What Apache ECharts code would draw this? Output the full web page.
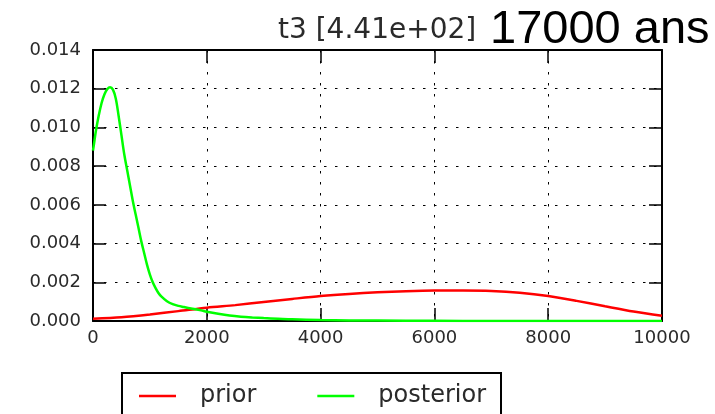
<!DOCTYPE html>
<html>
<head>
<meta charset="utf-8">
<script src="https://cdn.jsdelivr.net/npm/echarts@6/dist/echarts.min.js"></script>
<style>html,body{margin:0;padding:0;background:#fff}#c{width:715px;height:414px}</style>
</head>
<body>
<div id="c"></div>
<script>
// Data
var xTicks = [0, 2000, 4000, 6000, 8000, 10000];
var yTicks = [0.000, 0.002, 0.004, 0.006, 0.008, 0.010, 0.012, 0.014];

var priorX = [0, 500, 1000, 1500, 2000, 2500, 3000, 3500, 4000, 4500, 5000, 5500, 6000, 6500, 7000, 7500, 8000, 8500, 9000, 9500, 10000];
var priorY = [0.00012, 0.0002, 0.00034, 0.00051, 0.00069, 0.00082, 0.00098, 0.00114, 0.00129, 0.0014, 0.00148, 0.00154, 0.00157, 0.00157, 0.00155, 0.00146, 0.00129, 0.00104, 0.00076, 0.00049, 0.00027];

var postX = [0, 25, 50, 100, 150, 200, 250, 300, 350, 400, 450, 500, 550, 600, 650, 700, 750, 800, 850, 900, 950, 1000, 1050, 1100, 1150, 1200, 1300, 1400, 1500, 1600, 1700, 1800, 1900, 2000, 2200, 2400, 2600, 2800, 3000, 3250, 3500, 4000, 4500, 5000, 6000, 7000, 8000, 9000, 10000];
var postY = [0.0088, 0.0093, 0.0098, 0.0106, 0.01125, 0.0117, 0.01197, 0.01207, 0.01195, 0.0115, 0.0106, 0.0096, 0.0086, 0.0078, 0.0070, 0.0062, 0.0055, 0.0048, 0.0041, 0.0035, 0.0029, 0.0024, 0.0020, 0.0017, 0.00145, 0.00127, 0.00102, 0.00087, 0.00078, 0.00072, 0.00066, 0.00061, 0.00055, 0.00048, 0.00037, 0.00028, 0.00022, 0.00018, 0.00015, 0.00012, 0.00009, 0.00005, 0.00003, 0.00002, 0.00001, 0, 0, 0, 0];

var titleLeft = "t3 [4.41e+02]";
var titleRight = "17000 ans";
var seriesNames = ["prior", "posterior"];

function pairs(xs, ys) { return xs.map(function (x, i) { return [x, ys[i]]; }); }

var chart = echarts.init(document.getElementById('c'), null, {renderer: 'canvas'});
var gridLine = {show: true, lineStyle: {color: '#000', width: 1, type: [2.5, 8.5]}};
var frame = {show: true, onZero: false, lineStyle: {color: '#000', width: 2}};
var tick = {show: true, inside: true, length: 13, lineStyle: {color: '#000', width: 1.5}};
chart.setOption({
  animation: false,
  backgroundColor: '#fff',
  title: [
    {text: titleLeft, left: 273, top: 12, textStyle: {fontFamily: 'DejaVu Sans', fontSize: 28, fontWeight: 'normal', color: '#2a2a2a'}},
    {text: titleRight, left: 485, top: 2, textStyle: {fontFamily: 'Liberation Sans', fontSize: 47, fontWeight: 'normal', color: '#000'}}
  ],
  grid: {left: 93, right: 53, top: 50, bottom: 93, containLabel: false},
  legend: {
    left: 122, top: 373,
    padding: [11, 15, 40, 17],
    borderColor: '#000', borderWidth: 2,
    icon: 'rect',
    itemWidth: 37, itemHeight: 2.5, itemGap: 61,
    textStyle: {fontFamily: 'DejaVu Sans', fontSize: 24, color: '#2a2a2a', padding: [0, 0, 0, 19]},
    data: seriesNames
  },
  xAxis: [
    {type: 'value', min: 0, max: 10000, interval: 2000, position: 'bottom',
     axisLine: frame, axisTick: tick, splitLine: gridLine,
     axisLabel: {margin: 8, fontFamily: 'DejaVu Sans', fontSize: 18, color: '#2a2a2a',
       formatter: function (v) { return String(v); }}},
    {type: 'value', min: 0, max: 10000, interval: 2000, position: 'top',
     axisLine: frame, axisTick: tick, splitLine: {show: false}, axisLabel: {show: false}}
  ],
  yAxis: [
    {type: 'value', min: 0, max: 0.014, interval: 0.002, position: 'left',
     axisLine: frame, axisTick: tick, splitLine: gridLine,
     axisLabel: {margin: 12, fontFamily: 'DejaVu Sans', fontSize: 18, color: '#2a2a2a',
       formatter: function (v) { return v.toFixed(3); }}},
    {type: 'value', min: 0, max: 0.014, interval: 0.002, position: 'right',
     axisLine: frame, axisTick: tick, splitLine: {show: false}, axisLabel: {show: false}}
  ],
  series: [
    {name: seriesNames[0], type: 'line', symbol: 'none', smooth: 0.3, data: pairs(priorX, priorY),
     lineStyle: {color: '#ff0000', width: 2.5}, itemStyle: {color: '#ff0000'}},
    {name: seriesNames[1], type: 'line', symbol: 'none', smooth: 0.35, data: pairs(postX, postY),
     lineStyle: {color: '#00ff00', width: 2.5}, itemStyle: {color: '#00ff00'}}
  ]
});
</script>
</body>
</html>
